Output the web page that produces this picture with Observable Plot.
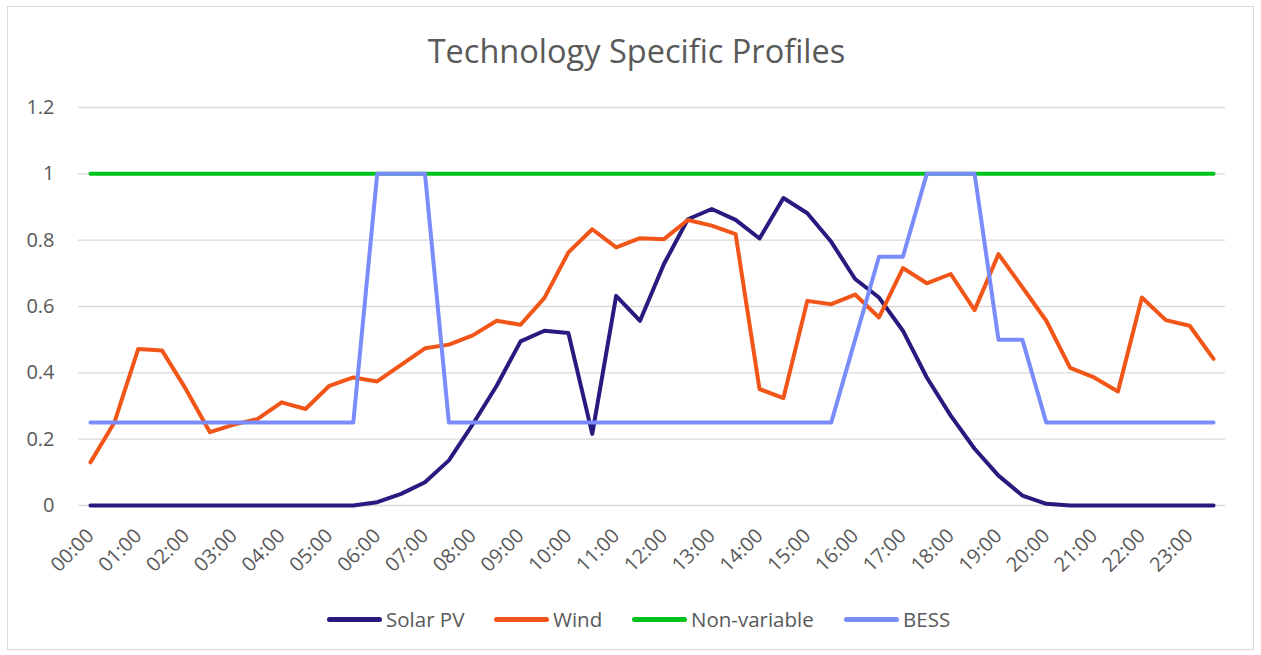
<!DOCTYPE html>
<html>
<head>
<meta charset="utf-8">
<script src="https://cdn.jsdelivr.net/npm/d3@7"></script>
<script src="https://cdn.jsdelivr.net/npm/@observablehq/plot@0.6"></script>
<style>
  html, body { margin: 0; padding: 0; background: #fff; }
  #wrap { position: relative; width: 1261px; height: 655px; overflow: hidden; font-family: "Open Sans", sans-serif; color: #595959; }
  #frame { position: absolute; left: 7px; top: 6px; width: 1247px; height: 644px; border: 1px solid #D9D9D9; box-sizing: border-box; }
  #title { position: absolute; left: 6px; top: 35px; width: 1261px; text-align: center; font-size: 32.5px; line-height: 1; white-space: nowrap; }
  #chart { position: absolute; left: 0; top: 85px; }
  .item { position: absolute; top: 609px; height: 22px; font-size: 20.5px; line-height: 1; white-space: nowrap; }
  .sw { position: absolute; left: 0; top: 7.5px; width: 55px; height: 5px; border-radius: 3px; }
  .lb { position: absolute; left: 59px; top: 0; }
</style>
</head>
<body>
<div id="wrap">
  <div id="frame"></div>
  <div id="title">Technology Specific Profiles</div>
  <div id="chart"></div>
  <div id="legend"></div>
</div>
<script>
const slots = ["00:00","00:30","01:00","01:30","02:00","02:30","03:00","03:30","04:00","04:30","05:00","05:30",
  "06:00","06:30","07:00","07:30","08:00","08:30","09:00","09:30","10:00","10:30","11:00","11:30",
  "12:00","12:30","13:00","13:30","14:00","14:30","15:00","15:30","16:00","16:30","17:00","17:30",
  "18:00","18:30","19:00","19:30","20:00","20:30","21:00","21:30","22:00","22:30","23:00","23:30"];
const hourLabels = ["00:00","01:00","02:00","03:00","04:00","05:00","06:00","07:00","08:00","09:00","10:00","11:00",
  "12:00","13:00","14:00","15:00","16:00","17:00","18:00","19:00","20:00","21:00","22:00","23:00"];
const yTicks = [0, 0.2, 0.4, 0.6, 0.8, 1, 1.2];
const yTickLabels = ["0", "0.2", "0.4", "0.6", "0.8", "1", "1.2"];

const seriesNames = ["Solar PV", "Wind", "Non-variable", "BESS"];
const seriesColors = ["#281A7E", "#F25518", "#00C21B", "#7A8CFA"];

const solarPV = [0,0,0,0,0,0,0,0,0,0,0,0,
  0.01,0.035,0.07,0.136,0.245,0.361,0.495,0.527,0.520,0.216,0.632,0.557,
  0.728,0.863,0.894,0.861,0.805,0.927,0.881,0.795,0.683,0.627,0.527,0.386,
  0.271,0.171,0.090,0.030,0.005,0,0,0,0,0,0,0];
const wind = [0.13,0.25,0.472,0.467,0.35,0.221,0.244,0.261,0.311,0.291,0.361,0.386,
  0.374,0.424,0.474,0.485,0.513,0.557,0.545,0.626,0.763,0.833,0.778,0.806,
  0.803,0.861,0.844,0.818,0.351,0.324,0.617,0.607,0.636,0.567,0.716,0.670,
  0.698,0.589,0.758,0.658,0.557,0.415,0.386,0.344,0.627,0.559,0.542,0.442];
const nonVariable = [1,1,1,1,1,1,1,1,1,1,1,1,1,1,1,1,1,1,1,1,1,1,1,1,
  1,1,1,1,1,1,1,1,1,1,1,1,1,1,1,1,1,1,1,1,1,1,1,1];
const bess = [0.25,0.25,0.25,0.25,0.25,0.25,0.25,0.25,0.25,0.25,0.25,0.25,
  1,1,1,0.25,0.25,0.25,0.25,0.25,0.25,0.25,0.25,0.25,
  0.25,0.25,0.25,0.25,0.25,0.25,0.25,0.25,0.5,0.75,0.75,1,
  1,1,0.5,0.5,0.25,0.25,0.25,0.25,0.25,0.25,0.25,0.25];

const seriesValues = [solarPV, wind, nonVariable, bess];
const rows = seriesValues.map(vals => vals.map((v, i) => ({slot: slots[i], value: v})));

const lineMarks = rows.map((data, k) => Plot.line(data, {
  x: "slot", y: "value", stroke: seriesColors[k], strokeWidth: 4,
  strokeLinejoin: "round", strokeLinecap: "round"
}));

const chart = Plot.plot({
  width: 1261,
  height: 510,
  marginLeft: 78,
  marginRight: 36,
  marginTop: 22,
  marginBottom: 90,
  style: {fontFamily: "Open Sans, sans-serif", color: "#595959", background: "transparent", overflow: "visible"},
  x: {type: "point", domain: slots, padding: 0.5, axis: null},
  y: {domain: [0, 1.2], axis: null},
  marks: [
    Plot.gridY(yTicks, {stroke: "#D9D9D9", strokeOpacity: 1, strokeWidth: 1.3}),
    Plot.text(yTicks, {
      y: d => d, frameAnchor: "left", dx: -24, textAnchor: "end",
      text: (d, i) => yTickLabels[i], fontSize: 20, fill: "#595959"
    }),
    Plot.text(hourLabels, {
      x: d => d, frameAnchor: "bottom", dy: 27, rotate: -45, textAnchor: "end",
      lineAnchor: "middle", text: d => d, fontSize: 20, fill: "#595959"
    }),
    ...lineMarks
  ]
});
document.getElementById("chart").appendChild(chart);

const legendLefts = [327, 494, 632, 844];
const legend = document.getElementById("legend");
seriesNames.forEach((name, k) => {
  const item = document.createElement("div");
  item.className = "item";
  item.style.left = legendLefts[k] + "px";
  item.innerHTML = `<span class="sw" style="background:${seriesColors[k]}"></span><span class="lb">${name}</span>`;
  legend.appendChild(item);
});
</script>
</body>
</html>
